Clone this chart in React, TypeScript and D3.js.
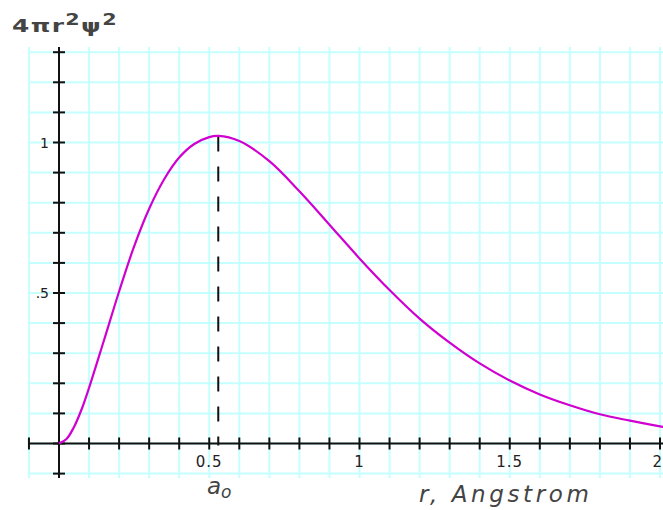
import React from 'react';
import * as d3 from 'd3';

// radial probability
const radius = [0, 0.025, 0.05, 0.075, 0.1, 0.15, 0.2, 0.25, 0.3, 0.35, 0.4, 0.45, 0.5, 0.53, 0.6, 0.7, 0.8, 0.9, 1.0, 1.1, 1.2, 1.3, 1.4, 1.5, 1.6, 1.7, 1.8, 1.9, 2.0, 2.03];
const density = [0, 0.015, 0.055, 0.113, 0.185, 0.344, 0.505, 0.655, 0.78, 0.878, 0.95, 0.995, 1.018, 1.022, 1.005, 0.938, 0.838, 0.727, 0.615, 0.51, 0.415, 0.335, 0.266, 0.209, 0.163, 0.127, 0.097, 0.076, 0.057, 0.052];

const peakRadius = 0.53;

const xTicks = d3.range(-1, 21).map((i) => i / 10);
const yTicks = d3.range(-1, 14).map((i) => i / 10);
const xTickLabels = [
    { v: 0.5, label: '0.5' },
    { v: 1, label: '1' },
    { v: 1.5, label: '1.5' },
    { v: 2, label: '2' }
];
const yTickLabels = [
    { v: 1, label: '1' },
    { v: 0.5, label: '.5' }
];

const W = 663;
const H = 510;

const App = () => {
    const x = d3.scaleLinear().domain([0, 2]).range([59, 660]);
    const y = d3.scaleLinear().domain([0, 1]).range([443.5, 142.5]);

    const pts = radius.map((r, i) => [r, density[i]] as [number, number]);
    const path = d3.line<[number, number]>()
        .x((d) => x(d[0]))
        .y((d) => y(d[1]))
        .curve(d3.curveCatmullRom.alpha(0.5))(pts);

    const gridTop = 47;
    const gridBottom = 478;
    const gridLeft = 28;
    const gridColor = '#c6ffff';
    const ink = '#111';

    return (
        <svg width={W} height={H} style={{ position: 'absolute', left: 0, top: 0, background: '#fff' }}>
            {/* grid */}
            <g stroke={gridColor} strokeWidth={2}>
                {xTicks.concat([2.1]).map((t) => (
                    <line key={'gx' + t} x1={x(t)} x2={x(t)} y1={gridTop} y2={gridBottom} />
                ))}
                {yTicks.map((t) => (
                    <line key={'gy' + t} x1={gridLeft} x2={W} y1={y(t)} y2={y(t)} />
                ))}
            </g>

            {/* dashed marker at a0 */}
            <line
                x1={x(peakRadius)}
                x2={x(peakRadius)}
                y1={y(1.02)}
                y2={y(0) + 2}
                stroke={ink}
                strokeWidth={2}
                strokeDasharray="15,15"
            />

            {/* axes */}
            <g stroke={ink} strokeWidth={2}>
                <line x1={gridLeft} x2={W} y1={y(0)} y2={y(0)} />
                <line x1={x(0)} x2={x(0)} y1={gridTop} y2={gridBottom} />
                {xTicks.map((t) => (
                    <line key={'tx' + t} x1={x(t)} x2={x(t)} y1={y(0) - 6} y2={y(0) + 6} />
                ))}
                {yTicks.map((t) => (
                    <line key={'ty' + t} x1={x(0) - 6} x2={x(0) + 6} y1={y(t)} y2={y(t)} />
                ))}
            </g>

            {/* curve */}
            <path d={path || ''} fill="none" stroke="#d000d0" strokeWidth={2.2} />

            {/* tick labels */}
            <g fontFamily="'DejaVu Sans', sans-serif" fill="#222">
                {xTickLabels.map((d) => {
                    const edge = x(d.v) + 8 > W;
                    return (
                        <text
                            key={'lx' + d.v}
                            x={edge ? W : x(d.v)}
                            y={467}
                            fontSize={15}
                            textAnchor={edge ? 'end' : 'middle'}
                            letterSpacing={1}
                        >
                            {d.label}
                        </text>
                    );
                })}
                {yTickLabels.map((d) => (
                    <text key={'ly' + d.v} x={49} y={y(d.v) + 5} fontSize={14} textAnchor="end">
                        {d.label}
                    </text>
                ))}
            </g>

            {/* titles */}
            <g transform="translate(12,32) scale(1.38,1)">
                <text x={0} y={0} fontFamily="'DejaVu Sans', sans-serif" fontWeight="bold" fontSize={18} fill="#444" letterSpacing={1}>
                    4πr
                    <tspan dy={-7} fontSize={15}>2</tspan>
                    <tspan dy={7}>ψ</tspan>
                    <tspan dy={-7} fontSize={15}>2</tspan>
                </text>
            </g>
            <text x={207} y={494} fontFamily="'DejaVu Sans', sans-serif" fontStyle="italic" fontSize={23} fill="#444">
                a
                <tspan dy={4} fontSize={17}>o</tspan>
            </text>
            <text x={419} y={502} fontFamily="'DejaVu Sans', sans-serif" fontStyle="italic" fontSize={23} fill="#444" letterSpacing={3.6}>
                r, Angstrom
            </text>
        </svg>
    );
};

export default App;
